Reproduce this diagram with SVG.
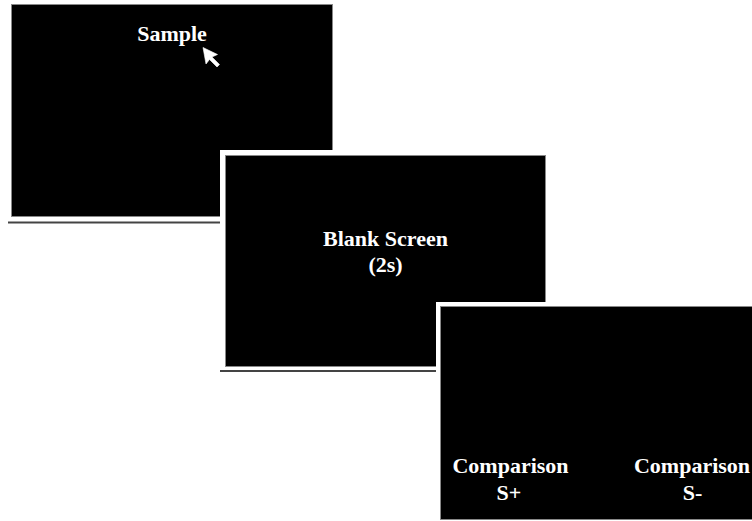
<svg xmlns="http://www.w3.org/2000/svg" width="752" height="521" viewBox="0 0 752 521">
  <style>
    .screen { fill: #000; stroke: #888; stroke-width: 1; }
    .frame { fill: #fff; stroke: none; }
    .base { stroke: #444; stroke-width: 2; }
    .lbl { font-family: "Liberation Serif", "Times New Roman", serif; font-weight: bold; font-size: 22px; fill: #fff; text-anchor: middle; }
  </style>
  <rect width="752" height="521" fill="#fff"/>
  <g id="sample-screen">
    <rect class="screen" x="11.5" y="4.5" width="321" height="212"/>
    <line class="base" x1="8" y1="222.5" x2="220" y2="222.5"/>
    <text class="lbl" x="172" y="41">Sample</text>
    <path d="M203,47.5 L217.5,54.5 L212,57 L219.5,64.5 L217,67 L209.5,59.5 L206,64 Z" fill="#fff" stroke="#fff" stroke-width="0.6" stroke-linejoin="round"/>
  </g>
  <g id="blank-screen">
    <rect class="frame" x="220" y="150" width="327" height="219"/>
    <rect class="screen" x="225.5" y="155.5" width="320" height="211"/>
    <line class="base" x1="220" y1="371" x2="437" y2="371"/>
    <text class="lbl" x="385.5" y="246">Blank Screen</text>
    <text class="lbl" x="385.5" y="272">(2s)</text>
  </g>
  <g id="comparison-screen">
    <rect class="frame" x="436" y="302" width="316" height="219"/>
    <rect class="screen" x="440.5" y="306.5" width="313" height="213"/>
    <text class="lbl" x="510.5" y="473">Comparison</text>
    <text class="lbl" x="509" y="500">S+</text>
    <text class="lbl" x="692" y="473">Comparison</text>
    <text class="lbl" x="692.5" y="500">S-</text>
  </g>
  <g id="connectors"></g>
</svg>
